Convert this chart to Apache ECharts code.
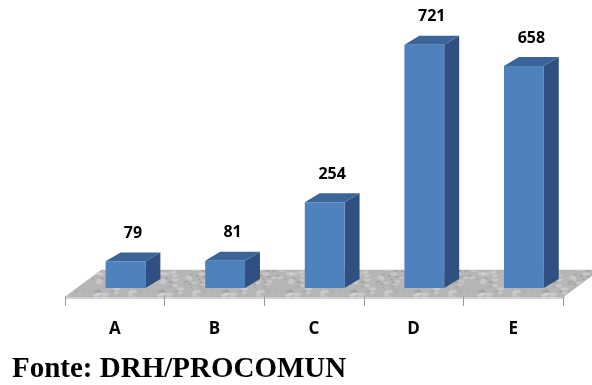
<!DOCTYPE html>
<html>
<head>
<meta charset="utf-8">
<script src="https://cdn.jsdelivr.net/npm/echarts@6/dist/echarts.min.js"></script>
<style>
  html, body { margin: 0; padding: 0; background: #fff; }
  #chart { width: 592px; height: 385px; }
</style>
</head>
<body>
<div id="chart"></div>
<script>
// Categories and values
const categories = ['A', 'B', 'C', 'D', 'E'];
const values = [79, 81, 254, 721, 658];
const sourceText = 'Fonte: DRH/PROCOMUN';

const FRONT = '#4F81BD';
const SIDE = '#2F5080';
const TOP = '#3B6499';

// Small stone-like tile used to fill the floor (deterministic hash speckles)
function makeStoneTile() {
  const c = document.createElement('canvas');
  c.width = 64; c.height = 64;
  const g = c.getContext('2d');
  g.fillStyle = '#b6b6b6';
  g.fillRect(0, 0, 64, 64);
  for (let k = 0; k < 140; k++) {
    const hx = Math.abs(Math.sin(k * 12.9898) * 43758.5453) % 1;
    const hy = Math.abs(Math.sin(k * 78.233) * 12345.6789) % 1;
    const hs = Math.abs(Math.sin(k * 3.17) * 9876.54) % 1;
    const shade = hs > 0.5 ? 'rgba(235,235,235,0.35)' : 'rgba(120,120,120,0.30)';
    g.fillStyle = shade;
    g.beginPath();
    g.ellipse(hx * 64, hy * 64, 1 + hs * 3, 0.6 + hs * 1.2, 0, 0, Math.PI * 2);
    g.fill();
  }
  return c;
}
const stoneTile = makeStoneTile();

const chart = echarts.init(document.getElementById('chart'), null, { renderer: 'canvas' });

// Floor depth offsets relative to category band width
function floorDepth(band) { return [band * 0.365, -band * 0.27]; }

const option = {
  animation: false,
  grid: { left: 65, right: 29, top: 27, bottom: 88 },
  xAxis: {
    type: 'category',
    data: categories,
    boundaryGap: true,
    axisLine: { show: false },
    axisTick: { show: true, length: 9, lineStyle: { color: '#9a9a9a', width: 1 } },
    axisLabel: {
      margin: 24,
      color: '#000',
      fontFamily: 'Open Sans',
      fontWeight: 'bold',
      fontSize: 17
    },
    z: 5
  },
  yAxis: {
    type: 'value',
    min: 0,
    max: 800,
    show: false,
    splitLine: { show: false }
  },
  series: [
    {
      // textured floor plane under the bars
      type: 'custom',
      z: 1,
      silent: true,
      data: [[0, 0]],
      renderItem: function (params, api) {
        const cs = params.coordSys;
        const band = api.size([1, 0])[0];
        const d = floorDepth(band);
        const y0 = cs.y + cs.height;
        const x0 = cs.x, x1 = cs.x + cs.width;
        return {
          type: 'group',
          children: [
            {
              type: 'polygon',
              shape: { points: [[x0, y0], [x1, y0], [x1 + d[0], y0 + d[1]], [x0 + d[0], y0 + d[1]]] },
              style: {
                fill: { image: stoneTile, repeat: 'repeat' },
                stroke: '#a8a8a8',
                lineWidth: 0.5
              }
            },
            {
              type: 'polygon',
              shape: { points: [[x0, y0], [x1, y0], [x1 + 2, y0 - 1.5], [x1 + 2, y0 + 0.5], [x1, y0 + 2], [x0, y0 + 2]] },
              style: { fill: '#d2d2d2' }
            }
          ]
        };
      }
    },
    {
      // 3D columns with value labels
      type: 'custom',
      z: 3,
      data: values.map(function (v, i) { return [i, v]; }),
      renderItem: function (params, api) {
        const i = api.value(0);
        const v = api.value(1);
        const base = api.coord([i, 0]);
        const tip = api.coord([i, v]);
        const band = api.size([1, 0])[0];
        const h = base[1] - tip[1];
        const fd = floorDepth(band);
        // bar stands at mid-depth of the floor
        const mx = base[0] + fd[0] / 2;
        const my = base[1] + fd[1] / 2;
        const w = band * 0.40;
        const dx = band * 0.15, dy = -band * 0.09;
        const left = mx - dx / 2 - w / 2;
        const right = left + w;
        const bottom = my - dy / 2;
        const top = bottom - h;
        return {
          type: 'group',
          children: [
            {
              type: 'polygon',
              shape: { points: [[right, bottom], [right + dx, bottom + dy], [right + dx, top + dy], [right, top]] },
              style: { fill: SIDE }
            },
            {
              type: 'polygon',
              shape: { points: [[left, top], [right, top], [right + dx, top + dy], [left + dx, top + dy]] },
              style: { fill: TOP }
            },
            {
              type: 'rect',
              shape: { x: left, y: top, width: w, height: h },
              style: { fill: FRONT }
            },
            {
              type: 'text',
              x: (left + right) / 2 + dx / 2,
              y: top - 28,
              style: {
                text: String(v),
                fill: '#000',
                font: 'bold 16px "Open Sans"',
                align: 'center',
                verticalAlign: 'middle'
              }
            }
          ]
        };
      }
    }
  ],
  graphic: [
    {
      type: 'text',
      left: 12,
      top: 355,
      style: {
        text: sourceText,
        fill: '#000',
        font: 'bold 29px "Liberation Serif"'
      }
    }
  ]
};

chart.setOption(option);
</script>
</body>
</html>
